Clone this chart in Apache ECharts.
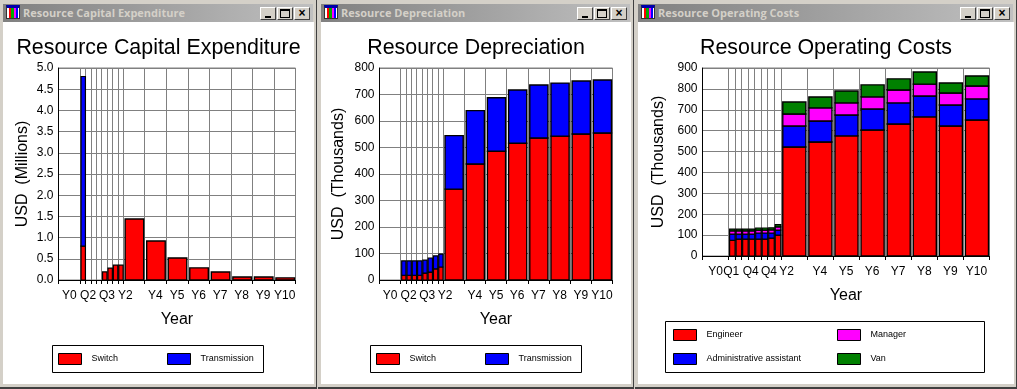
<!DOCTYPE html>
<html>
<head>
<meta charset="utf-8">
<title>Resource charts</title>
<script src="https://cdn.jsdelivr.net/npm/echarts@6/dist/echarts.min.js"></script>
<style>
html, body { margin: 0; padding: 0; background: #d4d0c8; overflow: hidden; }
#page { position: relative; width: 1017px; height: 389px; background: #d4d0c8; }
.win { position: absolute; top: 0; height: 389px; background: #d4d0c8; border-right: 1px solid #404040; border-bottom: 2px solid #404040; box-sizing: border-box; }
.bar { position: absolute; left: 3px; right: 3px; top: 4px; height: 18px; background: linear-gradient(to right, #808080, #c0c0c0); }
.bar span { position: absolute; left: 20px; top: 1px; font: bold 11px/16px "Open Sans", sans-serif; color: #d4d0c8; white-space: nowrap; }
.ico { position: absolute; left: 3px; top: 1px; width: 14px; height: 14px; background: linear-gradient(to right, #fff 0 2px, #f00 2px 4px, #0a0 4px 7px, #f0f 7px 9px, #00f 9px 11px, #fff 11px); border: 1px solid #333; border-top: 3px solid #00a; box-sizing: border-box; }
.btn { position: absolute; top: 3px; width: 16px; height: 13px; background: #d4d0c8; border: 1px solid; border-color: #fff #404040 #404040 #fff; box-sizing: border-box; }
.min i { position: absolute; left: 4px; top: 8px; width: 6px; height: 2px; background: #000; }
.max i { position: absolute; left: 2px; top: 1px; width: 10px; height: 9px; border: 1px solid #000; border-top-width: 2px; box-sizing: border-box; }
.cls i { position: absolute; left: 0; top: -1px; width: 14px; font: bold 12px/13px "Liberation Sans"; text-align: center; color: #000; font-style: normal; }
.chart { position: absolute; top: 22px; left: 3px; background: #fff; height: 362px; }
</style>
</head>
<body>
<div id="page">
	<div class="win" style="left:0;width:317px"><div class="bar"><i class="ico"></i><span>Resource Capital Expenditure</span><b class="btn min" style="right:37px"><i></i></b><b class="btn max" style="right:20px"><i></i></b><b class="btn cls" style="right:3px"><i>×</i></b></div><div class="chart" id="capex_div" style="width:311px"></div></div>
	<div class="win" style="left:318px;width:316px"><div class="bar"><i class="ico"></i><span>Resource Depreciation</span><b class="btn min" style="right:37px"><i></i></b><b class="btn max" style="right:20px"><i></i></b><b class="btn cls" style="right:3px"><i>×</i></b></div><div class="chart" id="depr_div" style="width:310px"></div></div>
	<div class="win" style="left:635px;width:382px"><div class="bar"><i class="ico"></i><span>Resource Operating Costs</span><b class="btn min" style="right:37px"><i></i></b><b class="btn max" style="right:20px"><i></i></b><b class="btn cls" style="right:3px"><i>×</i></b></div><div class="chart" id="opex_div" style="width:376px"></div></div>
</div>
<script>
// bands along the year axis, one unit is a quarter
var bandSpans = [4, 1, 1, 1, 1, 1, 1, 1, 1, 4, 4, 4, 4, 4, 4, 4, 4];
var bandEdges = [0, 4, 5, 6, 7, 8, 9, 10, 11, 12, 16, 20, 24, 28, 32, 36, 40, 44];

var labelNames = ['Y0', 'Q2', 'Q3', 'Y2', 'Y4', 'Y5', 'Y6', 'Y7', 'Y8', 'Y9', 'Y10'];
var labelSpots = [2, 5.5, 9, 12.4, 18, 22, 26, 30, 34, 38, 42];
var opexLabelNames = ['Y0', 'Q1', 'Q4', 'Q4', 'Y2', 'Y4', 'Y5', 'Y6', 'Y7', 'Y8', 'Y9', 'Y10'];
var opexLabelSpots = [2, 4.4, 7.4, 10.2, 12.9, 18, 22, 26, 30, 34, 38, 42];

//资本支出 USD millions
var capexSwitch = [0, 0.8, 0, 0, 0, 0.19, 0.28, 0.35, 0.35, 1.44, 0.92, 0.52, 0.285, 0.19, 0.07, 0.07, 0.05];
var capexTransmission = [0, 4.0, 0, 0, 0, 0, 0, 0, 0, 0, 0, 0, 0, 0, 0, 0, 0];

//折旧 USD thousands
var deprSwitch = [0, 18, 18, 18, 18, 26, 30, 42, 49, 343, 438, 486, 516, 536, 543, 551, 555];
var deprTransmission = [0, 54, 54, 54, 54, 49, 53, 49, 49, 202, 201, 202, 201, 200, 200, 200, 200];

//运营成本 USD thousands
var opexEngineer = [0, 75, 81, 81, 81, 81, 81, 86, 100, 522, 546, 575, 603, 632, 666, 622, 651];
var opexAdmin = [0, 30, 24, 24, 24, 29, 29, 24, 24, 100, 100, 100, 101, 101, 100, 101, 101];
var opexManager = [0, 15, 15, 15, 15, 14, 14, 15, 15, 58, 63, 58, 58, 62, 57, 57, 62];
var opexVan = [0, 9, 9, 9, 9, 10, 10, 10, 11, 57, 52, 57, 57, 53, 58, 48, 48];

var FONT = '"Liberation Sans", Arial, sans-serif';

function resource_chart(divID, conf) {
	var myChart = echarts.init(document.getElementById(divID));
	var base = bandSpans.map(function() { return 0; });
	var series = [];
	for(var s = 0; s < conf.series.length; s++) {
		var item = conf.series[s];
		var rows = [];
		for(var i = 0; i < bandSpans.length; i++) {
			if(item.values[i] > 0) {
				rows.push([bandEdges[i], bandEdges[i] + bandSpans[i], base[i], base[i] + item.values[i]]);
			}
			base[i] += item.values[i];
		}
		series.push({
			type: 'custom',
			name: item.name,
			itemStyle: { color: item.color },
			encode: { x: [0, 1], y: [2, 3] },
			renderItem: function(params, api) {
				var a = api.coord([api.value(0), api.value(3)]);
				var b = api.coord([api.value(1), api.value(2)]);
				var wide = api.value(1) - api.value(0) > 1;
				var left = a[0] + (wide ? 2 : 1);
				var right = b[0] - (wide ? 1 : 0);
				return {
					type: 'rect',
					shape: { x: left, y: a[1], width: right - left, height: b[1] - a[1] },
					style: { fill: api.visual('color'), stroke: '#000', lineWidth: wide ? 1.4 : 1.2 }
				};
			},
			data: rows
		});
	}
	var legend = [];
	for(var c = 0; c < conf.legendColumns.length; c++) {
		legend.push({
			left: conf.legendLeft[c],
			top: conf.legendTop,
			orient: 'vertical',
			padding: 0,
			itemGap: 12,
			itemWidth: 23,
			itemHeight: 11,
			icon: 'rect',
			selectedMode: false,
			itemStyle: { borderColor: '#000', borderWidth: 1 },
			textStyle: { fontFamily: FONT, fontSize: 9, color: '#000', padding: [0, 0, 0, 5] },
			data: conf.legendColumns[c]
		});
	}
	var option = {
		animation: false,
		title: {
			text: conf.title,
			left: '50%',
			textAlign: 'center',
			top: 16,
			padding: 0,
			textStyle: { fontFamily: FONT, fontSize: 21.4, fontWeight: 'normal', color: '#000' }
		},
		grid: { left: conf.gridLeft, top: 46, width: conf.gridWidth, height: conf.gridHeight, outerBoundsMode: 'none', show: true, borderColor: '#808080', borderWidth: 1, backgroundColor: 'transparent' },
		legend: legend,
		xAxis: {
			type: 'value',
			min: 0,
			max: 44,
			name: 'Year',
			nameLocation: 'middle',
			nameGap: 32,
			nameMoveOverlap: false,
			nameTextStyle: { fontFamily: FONT, fontSize: 16, color: '#000' },
			axisLine: { show: true, lineStyle: { color: '#000', width: 1 } },
			axisTick: { show: true, customValues: bandEdges, length: 4, lineStyle: { color: '#000', width: 1 } },
			splitLine: { show: true, lineStyle: { color: '#808080', width: 1 } },
			axisLabel: {
				customValues: conf.labelSpots,
				margin: 10,
				fontFamily: FONT,
				fontSize: 12,
				color: '#000',
				hideOverlap: false,
				formatter: function(v) {
					return conf.labelNames[conf.labelSpots.indexOf(v)];
				}
			}
		},
		yAxis: {
			type: 'value',
			min: 0,
			max: conf.yMax,
			interval: conf.yStep,
			name: conf.yName,
			nameLocation: 'middle',
			nameGap: conf.yNameGap,
			nameMoveOverlap: false,
			nameTextStyle: { fontFamily: FONT, fontSize: 16, color: '#000' },
			axisLine: { show: true, lineStyle: { color: '#000', width: 1 } },
			axisTick: { show: false },
			splitLine: { show: true, lineStyle: { color: '#808080', width: 1 } },
			axisLabel: {
				margin: 5,
				padding: [3, 0, 0, 0],
				fontFamily: FONT,
				fontSize: 12,
				color: '#000',
				formatter: function(v) {
					return conf.yStep < 1 ? v.toFixed(1) : v;
				}
			}
		},
		graphic: [{
			type: 'rect',
			silent: true,
			z: -1,
			shape: conf.legendBox,
			style: { fill: '#fff', stroke: '#000', lineWidth: 1 }
		}],
		series: series
	};
	myChart.setOption(option);
}

resource_chart('capex_div', {
	title: 'Resource Capital Expenditure',
	yName: 'USD  (Millions)',
	yMax: 5,
	yStep: 0.5,
	yNameGap: 28,
	gridLeft: 55.5,
	gridWidth: 237,
	gridHeight: 212,
	labelNames: labelNames,
	labelSpots: labelSpots,
	legendBox: { x: 49.5, y: 323.5, width: 211, height: 27 },
	legendLeft: [55, 164],
	legendTop: 331,
	legendColumns: [['Switch'], ['Transmission']],
	series: [
		{ name: 'Switch', color: '#ff0000', values: capexSwitch },
		{ name: 'Transmission', color: '#0000ff', values: capexTransmission }
	]
});

resource_chart('depr_div', {
	title: 'Resource Depreciation',
	yName: 'USD  (Thousands)',
	yMax: 800,
	yStep: 100,
	yNameGap: 33,
	gridLeft: 58.5,
	gridWidth: 233,
	gridHeight: 212,
	labelNames: labelNames,
	labelSpots: labelSpots,
	legendBox: { x: 49.5, y: 323.5, width: 211, height: 27 },
	legendLeft: [55, 164],
	legendTop: 331,
	legendColumns: [['Switch'], ['Transmission']],
	series: [
		{ name: 'Switch', color: '#ff0000', values: deprSwitch },
		{ name: 'Transmission', color: '#0000ff', values: deprTransmission }
	]
});

resource_chart('opex_div', {
	title: 'Resource Operating Costs',
	yName: 'USD  (Thousands)',
	yMax: 900,
	yStep: 100,
	yNameGap: 35.5,
	gridLeft: 64.5,
	gridWidth: 287,
	gridHeight: 188,
	labelNames: opexLabelNames,
	labelSpots: opexLabelSpots,
	legendBox: { x: 27.5, y: 299.5, width: 319, height: 51 },
	legendLeft: [35, 199],
	legendTop: 307,
	legendColumns: [['Engineer', 'Administrative assistant'], ['Manager', 'Van']],
	series: [
		{ name: 'Engineer', color: '#ff0000', values: opexEngineer },
		{ name: 'Administrative assistant', color: '#0000ff', values: opexAdmin },
		{ name: 'Manager', color: '#ff00ff', values: opexManager },
		{ name: 'Van', color: '#008000', values: opexVan }
	]
});
</script>
</body>
</html>
